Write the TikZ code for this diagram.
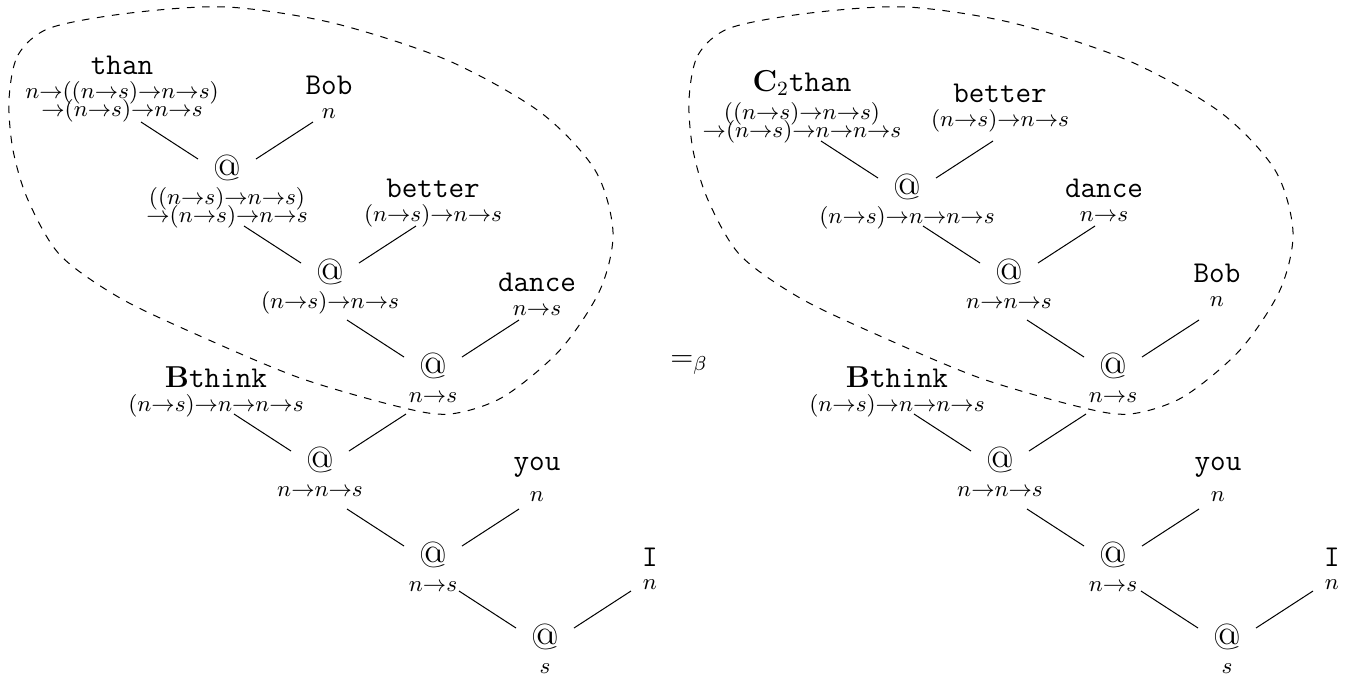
\documentclass[tikz,border=0pt]{standalone}
\usepackage{amsmath}
\usetikzlibrary{positioning}

\newcommand{\fn}{\mathord{\to}}
\newcommand{\twoty}[2]{$\begin{array}[t]{@{}c@{}}#1\\[-3.9pt]#2\end{array}$}
% branch from an @ node up to its left / right child
\newcommand{\lbr}[3]{\draw ([shift={(-29,-21)}]#1.base) -- ([shift={#3}]#2.base);}
\newcommand{\rbr}[3]{\draw ([shift={(29,-21)}]#1.base) -- ([shift={#3}]#2.base);}

\begin{document}
\begin{tikzpicture}[x=0.013947cm, y=-0.013947cm,
    word/.style={font=\large\ttfamily, inner sep=0pt, anchor=base},
    app/.style={font=\Large, inner sep=0pt, anchor=base},
    ty/.style={font=\small, inner sep=0pt, text height=3.9pt}]
    \useasboundingbox (0,0) rectangle (1351,674);

    % left tree
    \node[word] (than) at (122,74) {than};
    \node[ty, below=5.2pt of than] (than-t) {\twoty{n\fn((n\fn s)\fn n\fn s)}{\fn(n\fn s)\fn n\fn s}};
    \node[word] (bob) at (329,94) {Bob};
    \node[ty, below=5.2pt of bob] (bob-t) {$n$};
    \node[app] (at1) at (227,180) {@};
    \node[ty, below=5.2pt of at1] (at1-t) {\twoty{((n\fn s)\fn n\fn s)}{\fn(n\fn s)\fn n\fn s}};
    \node[word] (better) at (433,197) {better};
    \node[ty, below=5.2pt of better] (better-t) {$(n\fn s)\fn n\fn s$};
    \node[app] (at2) at (330,284) {@};
    \node[ty, below=5.2pt of at2] (at2-t) {$(n\fn s)\fn n\fn s$};
    \node[word] (dance) at (537,291) {dance};
    \node[ty, below=5.2pt of dance] (dance-t) {$n\fn s$};
    \node[app] (at3) at (433,378) {@};
    \node[ty, below=5.2pt of at3] (at3-t) {$n\fn s$};
    \node[word] (think) at (216,387) {$\mathbf{B}$think};
    \node[ty, below=5.2pt of think] (think-t) {$(n\fn s)\fn n\fn n\fn s$};
    \node[app] (at4) at (320,472) {@};
    \node[ty, below=5.2pt of at4] (at4-t) {$n\fn n\fn s$};
    \node[word] (you) at (537,470.5) {you};
    \node[ty, below=5.2pt of you] (you-t) {$n$};
    \node[app] (at5) at (433,567) {@};
    \node[ty, below=5.2pt of at5] (at5-t) {$n\fn s$};
    \node[word] (i) at (650,566) {I};
    \node[ty, below=5.2pt of i] (i-t) {$n$};
    \node[app] (at6) at (545,649) {@};
    \node[ty, below=5.2pt of at6] (at6-t) {$s$};

    \lbr{at1}{than}{(19,48)}
    \rbr{at1}{bob}{(-16,28)}
    \lbr{at2}{at1}{(17,46)}
    \rbr{at2}{better}{(-17,29)}
    \lbr{at3}{at2}{(17,36)}
    \rbr{at3}{dance}{(-18,29)}
    \lbr{at4}{think}{(18,27)}
    \rbr{at4}{at3}{(-27,36)}
    \lbr{at5}{at4}{(27,37)}
    \rbr{at5}{you}{(-18,38.5)}
    \lbr{at6}{at5}{(26,24)}
    \rbr{at6}{i}{(-19,25)}

    \node[anchor=base, font=\large] (beta) at (689,366) {$=_\beta$};

    % right tree
    \node[word] (rthan) at (802,91) {$\mathbf{C}_2$than};
    \node[ty, below=5.2pt of rthan] (rthan-t) {\twoty{((n\fn s)\fn n\fn s)}{\fn(n\fn s)\fn n\fn n\fn s}};
    \node[word] (rbetter) at (1000,102) {better};
    \node[ty, below=5.2pt of rbetter] (rbetter-t) {$(n\fn s)\fn n\fn s$};
    \node[app] (rat1) at (907,199) {@};
    \node[ty, below=5.2pt of rat1] (rat1-t) {$(n\fn s)\fn n\fn n\fn s$};
    \node[word] (rdance) at (1104,197) {dance};
    \node[ty, below=5.2pt of rdance] (rdance-t) {$n\fn s$};
    \node[app] (rat2) at (1009,284) {@};
    \node[ty, below=5.2pt of rat2] (rat2-t) {$n\fn n\fn s$};
    \node[word] (rbob) at (1217,282) {Bob};
    \node[ty, below=5.2pt of rbob] (rbob-t) {$n$};
    \node[app] (rat3) at (1113,378) {@};
    \node[ty, below=5.2pt of rat3] (rat3-t) {$n\fn s$};
    \node[word] (rthink) at (897,387) {$\mathbf{B}$think};
    \node[ty, below=5.2pt of rthink] (rthink-t) {$(n\fn s)\fn n\fn n\fn s$};
    \node[app] (rat4) at (1000,472) {@};
    \node[ty, below=5.2pt of rat4] (rat4-t) {$n\fn n\fn s$};
    \node[word] (ryou) at (1218,470.5) {you};
    \node[ty, below=5.2pt of ryou] (ryou-t) {$n$};
    \node[app] (rat5) at (1113,567) {@};
    \node[ty, below=5.2pt of rat5] (rat5-t) {$n\fn s$};
    \node[word] (ri) at (1332,566) {I};
    \node[ty, below=5.2pt of ri] (ri-t) {$n$};
    \node[app] (rat6) at (1227,649) {@};
    \node[ty, below=5.2pt of rat6] (rat6-t) {$s$};

    \lbr{rat1}{rthan}{(19,50)}
    \rbr{rat1}{rbetter}{(-7,39)}
    \lbr{rat2}{rat1}{(16,27)}
    \rbr{rat2}{rdance}{(-9,29)}
    \lbr{rat3}{rat2}{(18,36)}
    \rbr{rat3}{rbob}{(-18,38)}
    \lbr{rat4}{rthink}{(17,27)}
    \rbr{rat4}{rat3}{(-27,36)}
    \lbr{rat5}{rat4}{(27,37)}
    \rbr{rat5}{ryou}{(-19,38.5)}
    \lbr{rat6}{rat5}{(28,24)}
    \rbr{rat6}{ri}{(-19,25)}

    % redex outlines
    \foreach \dx in {0,680}
        \draw[dashed, shift={(\dx,0)}] plot[smooth cycle] coordinates {
            (9,100) (18,55) (50,28) (130,13) (227,7) (333,23) (447,60)
            (540,112) (595,170) (613,232) (600,290) (560,350) (503,397)
            (450,414) (400,407) (300,378) (200,336) (120,298) (60,255)
            (28,200) (13,150)};
\end{tikzpicture}
\end{document}
